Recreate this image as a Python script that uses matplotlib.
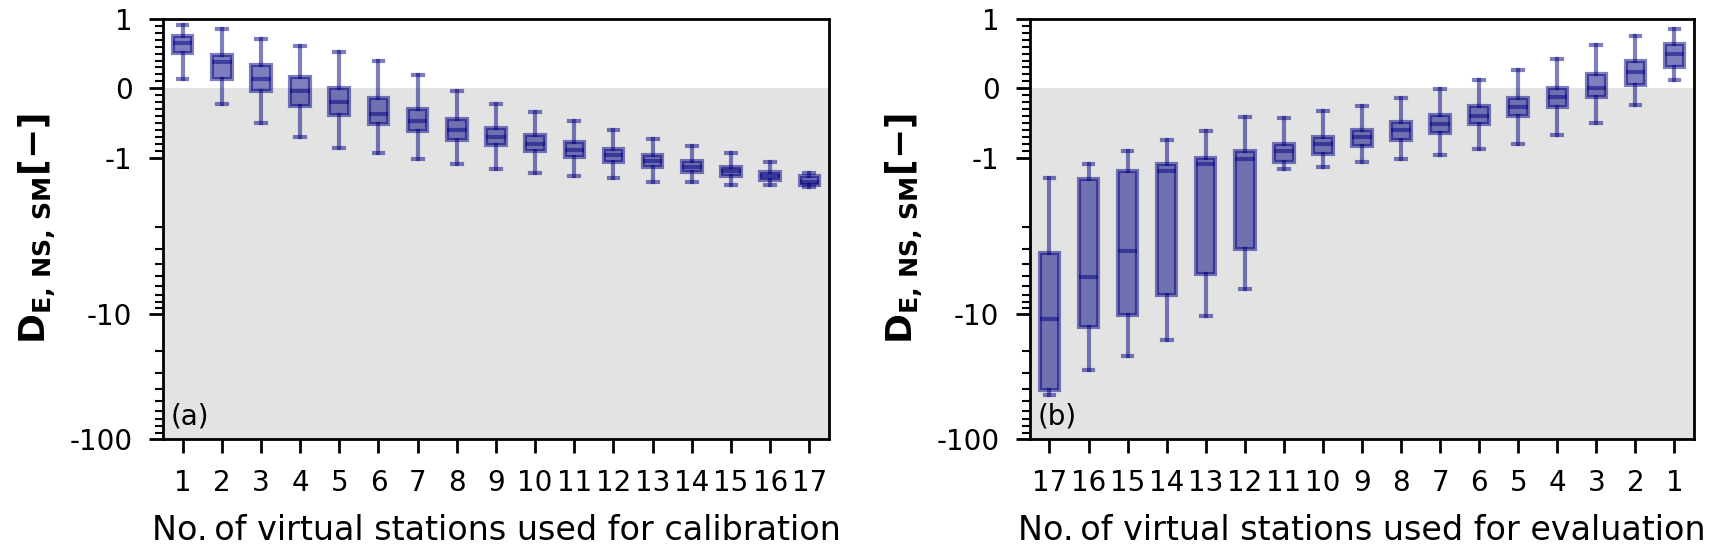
import numpy as np
import matplotlib.pyplot as plt
from matplotlib.ticker import FixedLocator

# (a) calibration: number of virtual stations 1..17
cal_labels = [str(i) for i in range(1, 18)]
cal_whishi = [0.92, 0.85, 0.71, 0.61, 0.52, 0.39, 0.19, -0.04, -0.23, -0.35, -0.48, -0.61, -0.73, -0.83, -0.94, -1.07, -1.23]
cal_q3 = [0.75, 0.48, 0.34, 0.16, 0.00, -0.14, -0.30, -0.44, -0.57, -0.68, -0.78, -0.88, -0.97, -1.05, -1.14, -1.21, -1.27]
cal_med = [0.66, 0.38, 0.14, -0.04, -0.20, -0.37, -0.48, -0.60, -0.70, -0.80, -0.89, -0.97, -1.05, -1.13, -1.20, -1.27, -1.35]
cal_q1 = [0.51, 0.13, -0.04, -0.25, -0.39, -0.51, -0.62, -0.74, -0.82, -0.91, -0.99, -1.06, -1.14, -1.21, -1.27, -1.33, -1.39]
cal_whislo = [0.14, -0.23, -0.50, -0.71, -0.86, -0.94, -1.02, -1.09, -1.16, -1.22, -1.26, -1.30, -1.35, -1.36, -1.39, -1.40, -1.42]

# (b) evaluation: number of virtual stations 17..1
eva_labels = [str(i) for i in range(17, 0, -1)]
eva_whishi = [-1.30, -1.09, -0.90, -0.74, -0.62, -0.42, -0.43, -0.33, -0.25, -0.14, -0.01, 0.12, 0.26, 0.42, 0.62, 0.75, 0.85]
eva_q3 = [-3.27, -1.31, -1.20, -1.10, -1.00, -0.91, -0.81, -0.70, -0.61, -0.49, -0.38, -0.25, -0.14, 0.01, 0.21, 0.39, 0.64]
eva_med = [-11.0, -5.1, -3.13, -1.20, -1.10, -1.02, -0.91, -0.81, -0.71, -0.61, -0.51, -0.40, -0.27, -0.12, 0.00, 0.23, 0.50]
eva_q1 = [-40.7, -12.7, -10.3, -7.1, -4.75, -3.0, -1.06, -0.95, -0.83, -0.75, -0.64, -0.52, -0.40, -0.27, -0.12, 0.04, 0.31]
eva_whislo = [-44.5, -28.4, -21.9, -16.2, -10.4, -6.3, -1.17, -1.13, -1.07, -1.02, -0.96, -0.87, -0.80, -0.67, -0.50, -0.24, 0.12]

yticks = [1, 0, -1, -10, -100]
yticklabels = ['1', '0', '-1', '-10', '-100']


def make_stats(lo, q1, med, q3, hi):
    return [dict(whislo=a, q1=b, med=c, q3=d, whishi=e, fliers=[])
            for a, b, c, d, e in zip(lo, q1, med, q3, hi)]


def draw_panel(ax, stats, labels, xlabel, tag):
    ax.axhspan(-100, 0, color='#e3e3e3', lw=0, zorder=0)
    col = 'navy'
    lw = 1.5
    ax.bxp(stats, positions=range(1, len(stats) + 1), widths=0.5,
           patch_artist=True, showfliers=False,
           boxprops=dict(facecolor=col, edgecolor=col, alpha=0.5, lw=lw),
           whiskerprops=dict(color=col, alpha=0.5, lw=lw),
           capprops=dict(color=col, alpha=0.5, lw=lw),
           medianprops=dict(color=col, alpha=0.5, lw=lw))
    ax.set_yscale('symlog', linthresh=2, linscale=1)
    ax.set_ylim(-100, 1)
    ax.set_xlim(0.5, len(stats) + 0.5)
    ax.set_yticks(yticks)
    ax.set_yticklabels(yticklabels)
    minors = list(np.arange(-0.9, 0.95, 0.1)) + list(range(-9, -1)) + list(range(-90, -10, 10))
    minors = [m for m in minors if abs(m) > 1e-6]
    ax.yaxis.set_minor_locator(FixedLocator(minors))
    ax.set_xticks(range(1, len(stats) + 1))
    ax.set_xticklabels(labels)
    ax.tick_params(which='major', length=5, width=1, pad=6, labelsize=10)
    ax.tick_params(which='minor', length=3, width=0.75)
    ax.tick_params(axis='x', which='minor', bottom=False)
    for s in ax.spines.values():
        s.set_linewidth(1.0)
    ax.set_xlabel(xlabel, fontsize=12, labelpad=6)
    ax.set_ylabel(r'$\mathbf{D_{E,\,NS,\,SM}[-]}$', fontsize=13)
    ax.text(0.012, 0.018, tag, transform=ax.transAxes, fontsize=10,
            ha='left', va='bottom')


fig = plt.figure(figsize=(8.56, 2.795), dpi=200)
ax1 = fig.add_axes([0.0952, 0.2155, 0.389, 0.7505])
ax2 = fig.add_axes([0.6016, 0.2155, 0.3879, 0.7505])

draw_panel(ax1, make_stats(cal_whislo, cal_q1, cal_med, cal_q3, cal_whishi),
           cal_labels, 'No.\u2009of virtual stations used for calibration', '(a)')
draw_panel(ax2, make_stats(eva_whislo, eva_q1, eva_med, eva_q3, eva_whishi),
           eva_labels, 'No.\u2009of virtual stations used for evaluation', '(b)')

fig.savefig('out.png', dpi=200)
